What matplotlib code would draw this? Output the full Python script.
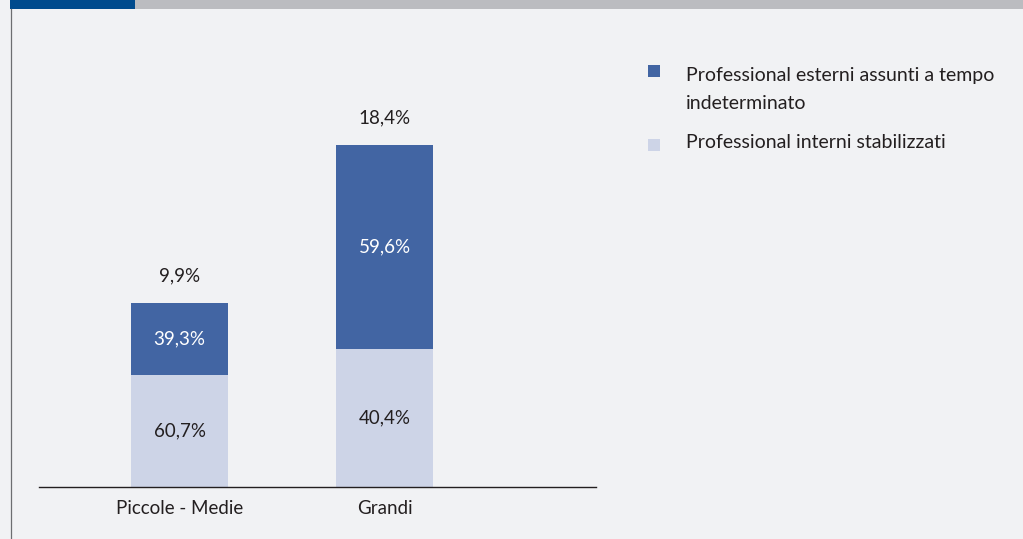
import matplotlib
matplotlib.use("Agg")
import matplotlib.pyplot as plt
from matplotlib.patches import Rectangle

# Data
categories = ["Piccole - Medie", "Grandi"]
totals = [9.9, 18.4]                      # share of total, %
share_interni = [60.7, 40.4]              # % of bar, lower segment
share_esterni = [39.3, 59.6]              # % of bar, upper segment
series_names = ["Professional esterni assunti a tempo\nindeterminato",
                "Professional interni stabilizzati"]

BG = "#F1F2F4"
DARK = "#4265A3"
LIGHT = "#CDD4E7"
TXT = "#231F20"
FONT = ["Lato", "DejaVu Sans"]
plt.rcParams["font.family"] = FONT

W, H = 1023, 539
fig = plt.figure(figsize=(W / 100, H / 100), dpi=100)
fig.patch.set_facecolor(BG)

def px(x0, y0, x1, y1):
    """Figure-fraction rectangle from pixel box (y from top)."""
    return [x0 / W, 1 - y1 / H, (x1 - x0) / W, (y1 - y0) / H]

# Header band
fig.add_artist(Rectangle((135 / W, 1 - 9 / H), 1 - 135 / W, 9 / H,
                         transform=fig.transFigure, color="#BBBCC0", lw=0))
fig.add_artist(Rectangle((10 / W, 1 - 9 / H), 125 / W, 9 / H,
                         transform=fig.transFigure, color="#004B8D", lw=0))
# Left frame line
fig.add_artist(plt.Line2D([10.5 / W, 10.5 / W], [0, 1 - 9 / H],
                          transform=fig.transFigure, color="#6D6E71", lw=0.9))

# Plot area
ax = fig.add_axes(px(39, 40, 596, 487))
ax.set_facecolor("none")
ymax = 447 / 18.6
ax.set_ylim(0, ymax)
ax.set_xlim(-0.685, 2.03)

x = list(range(len(categories)))
bw = 0.473
low = [t * s / 100 for t, s in zip(totals, share_interni)]
high = [t * s / 100 for t, s in zip(totals, share_esterni)]
ax.bar(x, low, width=bw, color=LIGHT, lw=0)
ax.bar(x, high, width=bw, bottom=low, color=DARK, lw=0)

fs = 13.5
for i in x:
    ax.text(i, low[i] / 2, f"{share_interni[i]:.1f}%".replace(".", ","),
            ha="center", va="center", fontsize=fs, color=TXT)
    ax.text(i, low[i] + high[i] / 2, f"{share_esterni[i]:.1f}%".replace(".", ","),
            ha="center", va="center", fontsize=fs, color="white")
    ax.annotate(f"{totals[i]:.1f}%".replace(".", ","), (i, totals[i]),
                xytext=(0, 27), textcoords="offset pixels",
                ha="center", va="center", fontsize=fs, color=TXT)

for s in ["top", "right", "left"]:
    ax.spines[s].set_visible(False)
ax.spines["bottom"].set_color(TXT)
ax.spines["bottom"].set_linewidth(1.0)
ax.set_yticks([])
ax.set_xticks(x)
ax.set_xticklabels(categories, fontsize=fs, color=TXT)
ax.tick_params(axis="x", length=0, pad=9)

# Legend
lfs = 14
legend_items = [(series_names[0], DARK, 71, 77), (series_names[1], LIGHT, 145, 144)]
for name, col, ysq, ytx in legend_items:
    fig.add_artist(Rectangle((648 / W, 1 - (ysq + 6) / H), 12 / W, 12 / H,
                             transform=fig.transFigure, color=col, lw=0))
    fig.text(686 / W, 1 - (ytx - 10) / H, name, ha="left", va="top",
             fontsize=lfs, color=TXT, linespacing=1.75)

fig.savefig("out.png", dpi=100, facecolor=BG)
